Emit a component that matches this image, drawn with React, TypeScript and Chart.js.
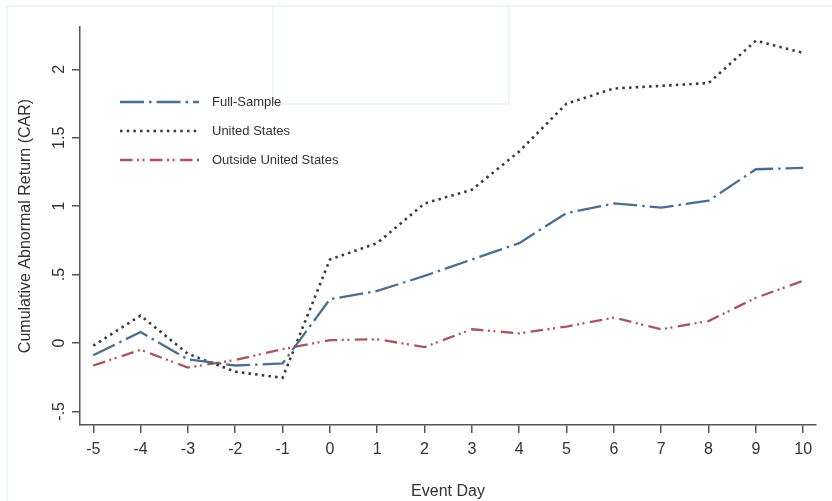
import React, { useEffect, useRef } from "react";
import { Chart, registerables } from "chart.js";

Chart.register(...registerables);

const eventDays = [-5, -4, -3, -2, -1, 0, 1, 2, 3, 4, 5, 6, 7, 8, 9, 10];
const fullSample = [-0.09, 0.08, -0.12, -0.165, -0.15, 0.32, 0.38, 0.49, 0.61, 0.73, 0.95, 1.02, 0.99, 1.04, 1.27, 1.28];
const unitedStates = [-0.02, 0.2, -0.08, -0.21, -0.255, 0.61, 0.73, 1.02, 1.12, 1.4, 1.75, 1.86, 1.88, 1.9, 2.21, 2.12];
const outsideUS = [-0.165, -0.05, -0.18, -0.125, -0.045, 0.02, 0.027, -0.03, 0.1, 0.07, 0.12, 0.185, 0.1, 0.16, 0.33, 0.455];

const seriesNames = ["Full-Sample", "United States", "Outside United States"];
const xTicks = eventDays;
const yTicks = [-0.5, 0, 0.5, 1, 1.5, 2];
const yTickLabels = ["-.5", "0", ".5", "1", "1.5", "2"];

const FONT = "'Liberation Sans', Arial, sans-serif";
const TEXT = "#333333";
const AXIS = "#555555";

const insideLegend = {
  id: "insideLegend",
  afterDatasetsDraw(chart: any) {
    const { ctx, chartArea } = chart;
    const x0 = chartArea.left + 40;
    const x1 = chartArea.left + 119;
    const tx = chartArea.left + 132;
    const rows = [102, 131, 160];
    ctx.save();
    chart.data.datasets.forEach((ds: any, i: number) => {
      const y = rows[i];
      ctx.beginPath();
      ctx.setLineDash(ds.borderDash || []);
      ctx.lineWidth = ds.borderWidth;
      ctx.strokeStyle = ds.borderColor;
      ctx.lineCap = "butt";
      ctx.moveTo(x0, y);
      ctx.lineTo(x1, y);
      ctx.stroke();
      ctx.setLineDash([]);
      ctx.fillStyle = TEXT;
      ctx.font = `13px ${FONT}`;
      ctx.textAlign = "left";
      ctx.textBaseline = "middle";
      ctx.fillText(ds.label, tx, y);
    });
    ctx.restore();
  },
};

export default function App() {
  const ref = useRef<HTMLCanvasElement | null>(null);

  useEffect(() => {
    if (!ref.current) return;
    const toPts = (arr: number[]) => eventDays.map((d, i) => ({ x: d, y: arr[i] }));
    const chart = new Chart(ref.current, {
      type: "line",
      data: {
        datasets: [
          {
            label: seriesNames[0],
            data: toPts(fullSample),
            borderColor: "#4a6e8f",
            borderWidth: 2.3,
            borderDash: [24, 5, 2.5, 5],
            pointRadius: 0,
            tension: 0,
            fill: false,
          },
          {
            label: seriesNames[1],
            data: toPts(unitedStates),
            borderColor: "#3a3a3a",
            borderWidth: 2.6,
            borderDash: [2.5, 4.2],
            pointRadius: 0,
            tension: 0,
            fill: false,
          },
          {
            label: seriesNames[2],
            data: toPts(outsideUS),
            borderColor: "#a8555e",
            borderWidth: 2.3,
            borderDash: [12.5, 4.5, 2, 3.5, 2, 5.5],
            pointRadius: 0,
            tension: 0,
            fill: false,
          },
        ],
      },
      options: {
        animation: false,
        responsive: false,
        devicePixelRatio: 1,
        layout: { padding: { top: 27, right: 16, left: 0, bottom: 0 } },
        plugins: { legend: { display: false }, tooltip: { enabled: false } },
        scales: {
          x: {
            type: "linear",
            position: "bottom",
            min: -5.28,
            max: 10.27,
            afterBuildTicks: (scale: any) => {
              scale.ticks = xTicks.map((v) => ({ value: v }));
            },
            afterFit: (scale: any) => {
              scale.height = 76;
            },
            grid: { display: true, drawOnChartArea: false, drawTicks: true, tickLength: 8, color: AXIS, lineWidth: 1.5 },
            border: { display: true, color: AXIS, width: 1.5 },
            ticks: {
              autoSkip: false,
              maxRotation: 0,
              minRotation: 0,
              padding: 7,
              color: TEXT,
              font: { family: FONT, size: 16 },
              callback: (v: any) => String(v),
            },
            title: {
              display: true,
              text: "Event Day",
              color: TEXT,
              font: { family: FONT, size: 16 },
              padding: { top: 4, bottom: 0 },
            },
          },
          y: {
            type: "linear",
            min: -0.6,
            max: 2.31,
            afterBuildTicks: (scale: any) => {
              scale.ticks = yTicks.map((v) => ({ value: v }));
            },
            afterFit: (scale: any) => {
              scale.width = 80;
            },
            grid: { display: true, drawOnChartArea: false, drawTicks: true, tickLength: 8, color: AXIS, lineWidth: 1.5 },
            border: { display: true, color: AXIS, width: 1.5 },
            ticks: {
              autoSkip: false,
              minRotation: 90,
              maxRotation: 90,
              crossAlign: "center",
              padding: 1,
              color: TEXT,
              font: { family: FONT, size: 16 },
              callback: (v: any) => {
                const i = yTicks.indexOf(Number(v));
                return i >= 0 ? yTickLabels[i] : "";
              },
            },
            title: {
              display: true,
              text: "Cumulative Abnormal Return (CAR)",
              color: TEXT,
              font: { family: FONT, size: 16 },
              padding: { top: 15.5, bottom: 0 },
            },
          },
        },
      },
      plugins: [insideLegend],
    });
    return () => chart.destroy();
  }, []);

  const faint = "rgb(238,245,245)";
  return (
    <div style={{ position: "fixed", left: 0, top: 0, width: 832, height: 501, background: "#fff", overflow: "hidden" }}>
      <div style={{ position: "absolute", left: 6, top: 5, width: 826, height: 496, borderLeft: `2px solid ${faint}`, borderTop: `2px solid ${faint}` }} />
      <div style={{ position: "absolute", left: 272, top: 5, width: 234, height: 96, border: `2px solid ${faint}` }} />
      <canvas ref={ref} width={832} height={501} style={{ position: "absolute", left: 0, top: 0, width: 832, height: 501 }} />
    </div>
  );
}
